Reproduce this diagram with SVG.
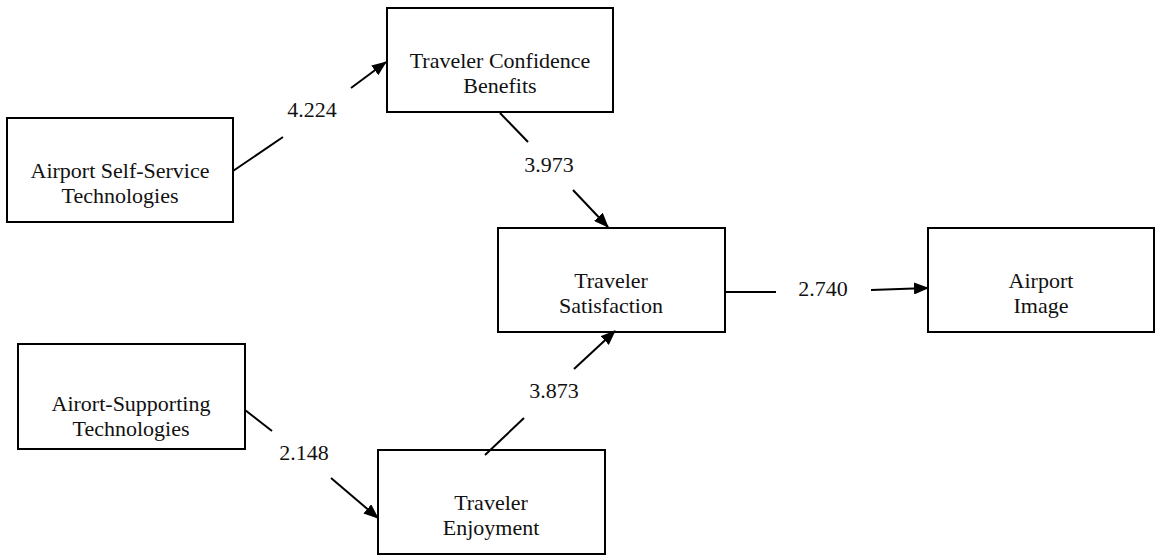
<svg xmlns="http://www.w3.org/2000/svg" width="1160" height="555" viewBox="0 0 1160 555">
  <style>
    .box { fill: #ffffff; stroke: #000000; stroke-width: 2; }
    .lbl { font-family: "Liberation Serif", "Times New Roman", serif; font-size: 22px; fill: #111111; text-anchor: middle; }
    .edge { fill: none; stroke: #000000; stroke-width: 2; }
  </style>
  <defs>
    <marker id="arrow" markerUnits="userSpaceOnUse" markerWidth="15" markerHeight="12" refX="14" refY="6" orient="auto">
      <path d="M0,0 L15,6 L0,12 Z" fill="#000000"/>
    </marker>
  </defs>
  <rect width="1160" height="555" fill="#ffffff"/>

  <g id="node-self-service">
    <rect class="box" x="7" y="118" width="226" height="104"/>
    <text class="lbl" x="120" y="178">Airport Self-Service</text>
    <text class="lbl" x="120" y="203">Technologies</text>
  </g>

  <g id="node-confidence">
    <rect class="box" x="387" y="8" width="226" height="104"/>
    <text class="lbl" x="500" y="68">Traveler Confidence</text>
    <text class="lbl" x="500" y="93">Benefits</text>
  </g>

  <g id="node-satisfaction">
    <rect class="box" x="498" y="228" width="227" height="104"/>
    <text class="lbl" x="611" y="288">Traveler</text>
    <text class="lbl" x="611" y="313">Satisfaction</text>
  </g>

  <g id="node-image">
    <rect class="box" x="928" y="228" width="226" height="104"/>
    <text class="lbl" x="1041" y="288">Airport</text>
    <text class="lbl" x="1041" y="313">Image</text>
  </g>

  <g id="node-supporting">
    <rect class="box" x="18" y="344" width="227" height="105"/>
    <text class="lbl" x="131" y="411">Airort-Supporting</text>
    <text class="lbl" x="131" y="436">Technologies</text>
  </g>

  <g id="node-enjoyment">
    <rect class="box" x="378" y="450" width="227" height="104"/>
    <text class="lbl" x="491" y="510">Traveler</text>
    <text class="lbl" x="491" y="535">Enjoyment</text>
  </g>

  <g id="connectors">
    <line class="edge" x1="233" y1="171" x2="283" y2="137"/>
    <line class="edge" x1="351" y1="88" x2="386" y2="62" marker-end="url(#arrow)"/>
    <text class="lbl" x="312" y="117">4.224</text>

    <line class="edge" x1="500" y1="113" x2="528" y2="142"/>
    <line class="edge" x1="573" y1="190" x2="608" y2="227" marker-end="url(#arrow)"/>
    <text class="lbl" x="549" y="172">3.973</text>

    <line class="edge" x1="725" y1="292" x2="776" y2="292"/>
    <line class="edge" x1="871" y1="290" x2="928" y2="288" marker-end="url(#arrow)"/>
    <text class="lbl" x="823" y="296">2.740</text>

    <line class="edge" x1="245" y1="410" x2="272" y2="431"/>
    <line class="edge" x1="331" y1="478" x2="378" y2="518" marker-end="url(#arrow)"/>
    <text class="lbl" x="304" y="460">2.148</text>

    <line class="edge" x1="485" y1="455" x2="524" y2="418"/>
    <line class="edge" x1="574" y1="369" x2="615" y2="331" marker-end="url(#arrow)"/>
    <text class="lbl" x="554" y="398">3.873</text>
  </g>
</svg>
